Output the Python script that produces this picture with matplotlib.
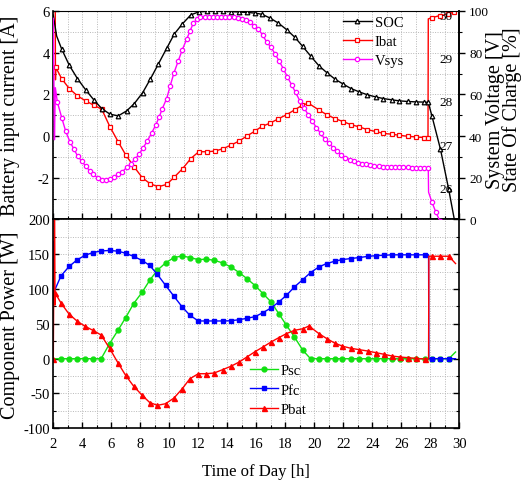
import matplotlib
matplotlib.use("Agg")
import matplotlib.pyplot as plt
from matplotlib.ticker import MultipleLocator, FixedLocator

plt.rcParams['font.family'] = ['Liberation Serif', 'DejaVu Serif']
plt.rcParams['axes.unicode_minus'] = False

# ---- top panel: battery current, system voltage, state of charge ----
t_soc = [2.0, 2.23, 2.58, 3.10, 3.66, 4.23, 4.79, 5.34, 5.91, 6.48, 7.06, 7.59, 8.17, 8.69,
         9.24, 9.82, 10.34, 10.90, 11.48, 12.03, 12.60, 13.15, 13.72, 14.26, 14.81, 15.34,
         15.91, 16.40, 16.95, 17.52, 18.10, 18.67, 19.20, 19.77, 20.32, 20.90, 21.43, 22.00,
         22.53, 23.10, 23.66, 24.23, 24.76, 25.34, 25.86, 26.44, 27.00, 27.57, 27.86, 28.12,
         28.70, 29.27, 29.79]
soc = [98.0, 88.0, 81.7, 74.0, 67.6, 62.2, 57.4, 53.2, 50.5, 49.7, 52.1, 55.6, 60.9, 67.3,
       74.5, 82.1, 88.9, 93.8, 98.1, 99.6, 99.8, 99.8, 99.8, 99.7, 99.5, 99.3,
       99.0, 98.4, 96.6, 94.2, 91.0, 87.3, 83.0, 78.2, 73.7, 70.2, 67.3, 64.9,
       62.8, 61.2, 59.8, 58.8, 58.0, 57.4, 56.9, 56.6, 56.4, 56.3, 56.2, 49.4,
       33.7, 14.4, -5.0]

t_ibat = [2.12, 2.15, 2.17, 2.58, 3.10, 3.66, 4.23, 4.79, 5.34, 5.91, 6.48, 7.01, 7.59, 8.14,
          8.67, 9.22, 9.82, 10.34, 10.92, 11.48, 12.03, 12.62, 13.15, 13.72, 14.26, 14.81,
          15.34, 15.91, 16.37, 16.95, 17.52, 18.10, 18.67, 19.15, 19.59, 20.34, 20.90, 21.43,
          22.00, 22.53, 23.10, 23.66, 24.23, 24.76, 25.34, 25.86, 26.44, 27.00, 27.57, 27.84,
          27.86, 28.10, 28.67, 29.24, 29.60, 29.75]
ibat = [9.0, 2.7, 3.3, 2.75, 2.28, 1.93, 1.69, 1.48, 1.29, 0.44, -0.28, -0.92, -1.49, -2.00,
        -2.28, -2.43, -2.32, -1.97, -1.56, -1.08, -0.75, -0.75, -0.72, -0.60, -0.43, -0.24,
        0.00, 0.24, 0.46, 0.62, 0.83, 1.03, 1.27, 1.47, 1.58, 1.24, 1.01, 0.84,
        0.69, 0.55, 0.44, 0.31, 0.22, 0.13, 0.09, 0.04, -0.01, -0.04, -0.07, -0.08,
        5.62, 5.68, 5.78, 5.84, 5.95, 6.5]

t_vsys = [2.00, 2.08, 2.14, 2.28, 2.58, 2.86, 3.15, 3.43, 3.68, 3.96,
          4.23, 4.53, 4.76, 5.06, 5.34, 5.63, 5.91, 6.19, 6.48, 6.76,
          7.06, 7.34, 7.63, 7.93, 8.21, 8.48, 8.79, 9.08, 9.31, 9.52,
          9.82, 10.05, 10.32, 10.62, 10.90, 11.20, 11.43, 11.66, 11.90, 12.15,
          12.43, 12.72, 13.00, 13.29, 13.57, 13.86, 14.14, 14.43, 14.72, 15.00,
          15.29, 15.57, 15.86, 16.14, 16.43, 16.72, 17.00, 17.29, 17.57, 17.86,
          18.14, 18.43, 18.71, 19.00, 19.29, 19.57, 19.86, 20.14, 20.43, 20.71,
          21.00, 21.29, 21.57, 21.86, 22.14, 22.43, 22.71, 23.00, 23.29, 23.57,
          23.86, 24.14, 24.43, 24.71, 25.00, 25.29, 25.57, 25.86, 26.14, 26.43,
          26.71, 27.00, 27.29, 27.57, 27.86, 27.88, 28.10, 28.37, 28.67, 28.85]
vsys = [29.90, 27.10, 28.30, 27.97, 27.61, 27.29, 27.05, 26.88, 26.72, 26.61,
        26.49, 26.38, 26.30, 26.22, 26.18, 26.17, 26.20, 26.25, 26.30, 26.36,
        26.46, 26.54, 26.65, 26.77, 26.92, 27.07, 27.26, 27.45, 27.63, 27.82,
        28.05, 28.33, 28.64, 28.92, 29.18, 29.42, 29.61, 29.79, 29.88, 29.92,
        29.93, 29.93, 29.93, 29.93, 29.93, 29.93, 29.92, 29.92, 29.91, 29.89,
        29.86, 29.81, 29.73, 29.65, 29.52, 29.35, 29.24, 29.08, 28.92, 28.74,
        28.55, 28.37, 28.19, 28.00, 27.84, 27.68, 27.53, 27.38, 27.25, 27.12,
        27.02, 26.92, 26.83, 26.75, 26.69, 26.64, 26.60, 26.57, 26.55, 26.53,
        26.51, 26.50, 26.49, 26.48, 26.48, 26.47, 26.47, 26.46, 26.46, 26.46,
        26.45, 26.45, 26.45, 26.45, 26.45, 25.89, 25.67, 25.44, 25.22, 25.05]

# ---- bottom panel: component power ----
t_psc = [2.00, 2.53, 3.09, 3.64, 4.19, 4.73, 5.30, 5.88, 6.46, 6.99,
         7.54, 8.14, 8.65, 9.18, 9.74, 10.32, 10.89, 11.42, 12.00, 12.53,
         13.09, 13.67, 14.24, 14.82, 15.35, 15.93, 16.46, 17.02, 17.55, 18.08,
         18.63, 19.21, 19.74, 20.32, 20.85, 21.40, 21.94, 22.51, 23.09, 23.69,
         24.26, 24.84, 25.37, 25.92, 26.49, 27.02, 27.60, 28.13, 28.68, 29.28,
         29.74]
psc = [0, 0, 0, 0, 0, 0, 0, 21.6, 40.8, 59.0,
       79.1, 95.9, 112.7, 127.1, 137.6, 145.3, 147.7, 145.3, 142.4, 142.9,
       141.5, 137.6, 131.9, 123.7, 115.1, 104.8, 93.5, 81.5, 64.7, 48.0,
       31.2, 12.0, 0, 0, 0, 0, 0, 0, 0, 0,
       0, 0, 0, 0, 0, 0, 0, 0, 0, 0,
       9.6]

t_pfc = [2.00, 2.07, 2.53, 3.09, 3.64, 4.19, 4.73, 5.30, 5.88, 6.46,
         6.99, 7.54, 8.14, 8.65, 9.18, 9.74, 10.32, 10.89, 11.42, 12.00,
         12.53, 13.09, 13.67, 14.24, 14.82, 15.35, 15.93, 16.46, 17.02, 17.55,
         18.08, 18.63, 19.21, 19.74, 20.32, 20.85, 21.40, 21.94, 22.51, 23.09,
         23.69, 24.26, 24.84, 25.37, 25.92, 26.49, 27.02, 27.60, 27.88, 27.90,
         28.13, 28.68, 29.28, 29.74]
pfc = [168, 97, 119, 132.5, 142, 148.5, 152.5, 154.8, 155.5, 154.5,
       151.5, 147, 141, 134, 121, 105.5, 89.7, 74.3, 62.4, 54.2,
       54.2, 54.2, 54.2, 54.5, 56.0, 58.0, 60.5, 66.2, 72.9, 81.5,
       91.1, 103.1, 113.7, 123.7, 131.9, 136.7, 140.0, 142.4, 143.9, 145.3,
       147.0, 148.0, 148.7, 149.2, 149.2, 149.2, 149.2, 149.2, 149.2, 0,
       0, 0, 0, 0]

t_pbat = [2.00, 2.08, 2.12, 2.14, 2.53, 3.09, 3.64, 4.19, 4.73, 5.30,
          5.88, 6.46, 6.99, 7.54, 8.14, 8.65, 9.18, 9.74, 10.32, 10.89,
          11.42, 12.00, 12.53, 13.09, 13.67, 14.24, 14.82, 15.35, 15.93, 16.46,
          17.02, 17.55, 18.08, 18.63, 19.21, 19.63, 20.32, 20.85, 21.40, 21.94,
          22.51, 23.09, 23.69, 24.26, 24.84, 25.37, 25.92, 26.49, 27.02, 27.60,
          27.88, 27.90, 28.13, 28.68, 29.28, 29.74]
pbat = [0, 260, 77, 94, 80, 64, 54, 46.5, 40.8, 34,
        15, -6, -24, -39.5, -52.8, -63, -67, -64.7, -56.6, -43.2,
        -28.8, -21.6, -21.6, -20.6, -15.8, -11.0, -4.8, 2.4, 10.3, 16.8,
        24.0, 30.2, 36.0, 40.8, 43.0, 47.0, 36.0, 29.0, 22.5, 18.0,
        15.0, 13.0, 11.0, 8.6, 6.2, 3.8, 2.4, 1.4, 0.5, -0.5,
        -0.5, 147.2, 147.2, 147.2, 147.2, 136.7]

x_ticks = list(range(2, 31, 2))


def marks(n, skip):
    # marker positions: every sample except the transient / jump points
    return [i for i in range(n) if i not in skip]


def style_grid(ax):
    ax.grid(which='both', color='#b8b8b8', linestyle=(0, (1, 1.5)), linewidth=0.7)
    ax.set_axisbelow(True)


fig = plt.figure(figsize=(5.21, 4.89), dpi=100)
ax_top = fig.add_axes([0.1023, 0.5491, 0.7793, 0.4264])
ax_bot = fig.add_axes([0.1023, 0.1221, 0.7793, 0.4270], sharex=ax_top)

for ax in (ax_top, ax_bot):
    for s in ax.spines.values():
        s.set_linewidth(1.2)

# top panel, left axis: battery current
ax_top.set_xlim(2, 30)
ax_top.set_ylim(-4, 6)
ax_top.set_xticks(x_ticks)
ax_top.xaxis.set_minor_locator(MultipleLocator(1))
ax_top.yaxis.set_major_locator(FixedLocator([-2, 0, 2, 4, 6]))
ax_top.yaxis.set_minor_locator(MultipleLocator(1))
style_grid(ax_top)
ax_top.tick_params(which='both', direction='in', labelbottom=False, right=False, top=False)
ax_top.tick_params(which='major', length=4, width=1)
ax_top.tick_params(which='minor', length=2, width=0.8)
ax_top.tick_params(axis='y', labelsize=10.5, pad=2.5)
ax_top.spines['top'].set_linewidth(0.8)

l_ibat, = ax_top.plot(t_ibat, ibat, color='#ff0000', lw=1.0, marker='s', ms=3.0,
                      mfc='white', mew=0.9, markevery=marks(len(t_ibat), {0, 1, 50, 55}),
                      label='Ibat')
ax_top.set_ylabel('Battery input current [A]', fontsize=14.5)
ax_top.yaxis.set_label_coords(-0.082, 0.5)

# top panel, right axis: state of charge
ax_soc = ax_top.twinx()
ax_soc.set_ylim(0, 100)
ax_soc.yaxis.set_major_locator(MultipleLocator(20))
ax_soc.yaxis.set_minor_locator(MultipleLocator(10))
ax_soc.tick_params(axis='y', which='both', direction='out', labelsize=9.5, pad=3)
ax_soc.tick_params(axis='y', which='major', length=4, width=1)
ax_soc.tick_params(axis='y', which='minor', length=2.5, width=0.8)
for name, s in ax_soc.spines.items():
    s.set_visible(name == 'right')
ax_soc.spines['right'].set_linewidth(1.2)
l_soc, = ax_soc.plot(t_soc, soc, color='black', lw=1.0, marker='^', ms=3.3,
                     mfc='white', mew=0.9, markevery=marks(len(t_soc), {0, 1, 52}),
                     label='SOC')
ax_soc.set_ylabel('System Voltage [V]\nState Of Charge [%]', fontsize=14.5, linespacing=0.85)
ax_soc.yaxis.set_label_coords(1.065, 0.53)

# top panel, voltage scale printed inside the right spine
ax_v = ax_top.twinx()
ax_v.set_ylim(25.26, 30.07)
ax_v.set_yticks([26, 27, 28, 29, 30])
ax_v.tick_params(axis='y', length=0, pad=-14.5, labelsize=9.5)
for s in ax_v.spines.values():
    s.set_visible(False)
l_vsys, = ax_v.plot(t_vsys, vsys, color='#ff00ff', lw=1.0, marker='o', ms=3.1,
                    mfc='white', mew=0.9, markevery=marks(len(t_vsys), {0, 1, 2, 95, 99}),
                    label='Vsys')

ax_v.legend([l_soc, l_ibat, l_vsys], ['SOC', 'Ibat', 'Vsys'], loc='upper left',
            bbox_to_anchor=(0.713, 0.975), frameon=False, fontsize=10.5, borderpad=0,
            borderaxespad=0, handlelength=2.0, handletextpad=0.2, labelspacing=0.4)

# bottom panel: component power
ax_bot.set_ylim(-100, 200)
ax_bot.yaxis.set_major_locator(MultipleLocator(50))
ax_bot.yaxis.set_minor_locator(MultipleLocator(25))
style_grid(ax_bot)
ax_bot.tick_params(which='both', direction='in', right=True, top=False, labelright=False)
ax_bot.tick_params(which='major', length=4, width=1)
ax_bot.tick_params(which='minor', length=2, width=0.8)
ax_bot.tick_params(axis='y', labelsize=10.5, pad=2.5)
ax_bot.tick_params(axis='x', labelsize=10.5, pad=6)

l_psc, = ax_bot.plot(t_psc, psc, color='#11e011', lw=1.0, marker='o', ms=3.5,
                     markevery=marks(len(t_psc), {0, 50}), label='Psc')
l_pfc, = ax_bot.plot(t_pfc, pfc, color='#0000ff', lw=1.0, marker='s', ms=3.3,
                     markevery=marks(len(t_pfc), {0, 1, 48, 49, 53}), label='Pfc')
l_pbat, = ax_bot.plot(t_pbat, pbat, color='#ff0000', lw=1.0, marker='^', ms=3.6,
                      markevery=marks(len(t_pbat), {1, 2, 50, 51, 55}), label='Pbat')

ax_bot.legend(loc='upper left', bbox_to_anchor=(0.4845, 0.31), frameon=False, fontsize=10.5,
              borderpad=0, borderaxespad=0, handlelength=1.9, handletextpad=0.2,
              labelspacing=0.45)

ax_bot.set_ylabel('Component Power [W]', fontsize=14.5)
ax_bot.yaxis.set_label_coords(-0.082, 0.5)
ax_bot.set_xlabel('Time of Day [h]', fontsize=12)
ax_bot.xaxis.set_label_coords(0.5, -0.165)

fig.savefig('out.png', dpi=100)
